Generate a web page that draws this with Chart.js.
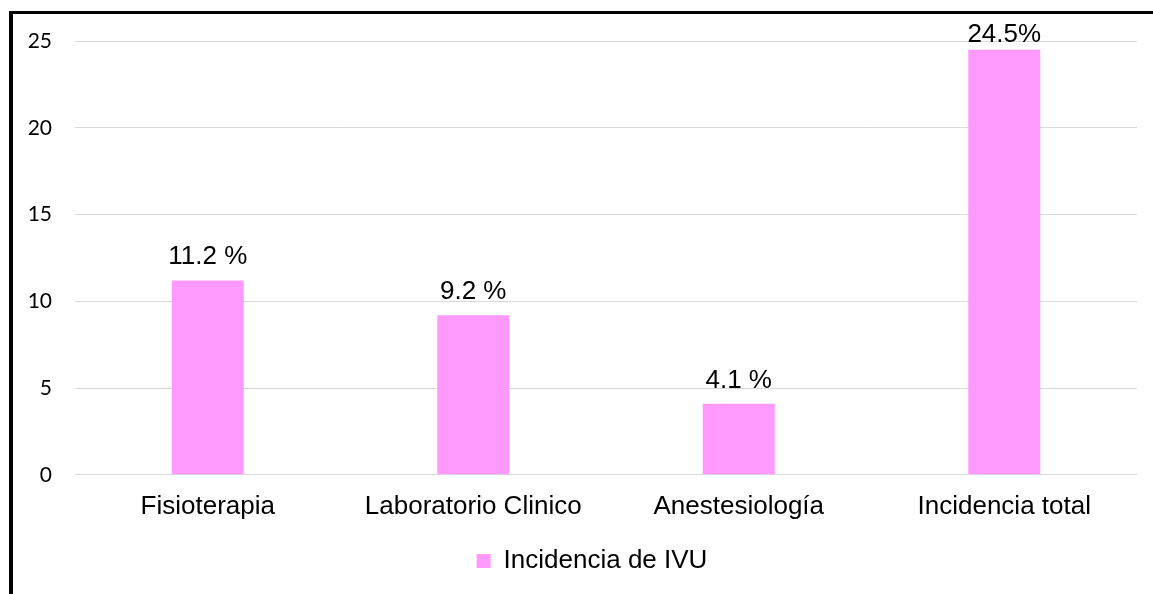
<!DOCTYPE html>
<html>
<head>
<meta charset="utf-8">
<script src="https://cdn.jsdelivr.net/npm/chart.js@4/dist/chart.umd.min.js"></script>
<style>
  html, body { margin: 0; padding: 0; background: #fff; }
  body { width: 1153px; height: 594px; position: relative; overflow: hidden; }
  #frame {
    position: absolute; left: 9px; top: 11px; right: 0; bottom: 0;
    border-left: 4px solid #000; border-top: 3px solid #000;
  }
  #wrap { position: absolute; left: 0; top: 0; width: 1153px; height: 594px; }
</style>
</head>
<body>
<div id="frame"></div>
<div id="wrap"><canvas id="ivuChart"></canvas></div>
<script>
const categories = ['Fisioterapia', 'Laboratorio Clinico', 'Anestesiología', 'Incidencia total'];
const incidencia = [11.2, 9.2, 4.1, 24.5];
const valueLabels = ['11.2 %', '9.2 %', '4.1 %', '24.5%'];
const yTicks = [0, 5, 10, 15, 20, 25];

// value labels above the bars (no datalabels plugin offline)
const barLabels = {
  id: 'barLabels',
  afterDatasetsDraw(chart) {
    const ctx = chart.ctx;
    const meta = chart.getDatasetMeta(0);
    ctx.save();
    ctx.font = '26px "Liberation Sans", Arial, sans-serif';
    ctx.fillStyle = '#000';
    ctx.textAlign = 'center';
    ctx.textBaseline = 'alphabetic';
    meta.data.forEach((bar, i) => {
      const y = Math.max(bar.y - 16, chart.chartArea.top + 1);
      ctx.fillText(valueLabels[i], bar.x, y);
    });
    ctx.restore();
  }
};

// legend in the original is centred a bit right of the canvas centre
const legendShift = {
  id: 'legendShift',
  afterLayout(chart) {
    if (chart.legend) chart.legend.left += 47;
  }
};

const ctx = document.getElementById('ivuChart');
new Chart(ctx, {
  type: 'bar',
  data: {
    labels: categories,
    datasets: [{
      label: 'Incidencia de IVU',
      data: incidencia,
      backgroundColor: '#FF99FF',
      borderWidth: 0,
      barPercentage: 0.271,
      categoryPercentage: 1
    }]
  },
  options: {
    responsive: true,
    maintainAspectRatio: false,
    animation: false,
    layout: {
      padding: { left: 0, right: 16, top: 41, bottom: 10 }
    },
    plugins: {
      legend: {
        position: 'bottom',
        labels: {
          boxWidth: 14,
          boxHeight: 14,
          color: '#000',
          padding: 10,
          font: { family: '"Liberation Sans", Arial, sans-serif', size: 26 }
        }
      },
      tooltip: { enabled: false }
    },
    scales: {
      x: {
        grid: { display: false, drawTicks: false },
        border: { display: false },
        ticks: {
          color: '#000',
          padding: 16,
          maxRotation: 0,
          font: { family: '"Liberation Sans", Arial, sans-serif', size: 26 }
        }
      },
      y: {
        min: 0,
        max: 25,
        afterFit(scale) { scale.width = 75; },
        afterBuildTicks(scale) { scale.ticks = yTicks.map(v => ({ value: v })); },
        grid: { color: '#d9d9d9', lineWidth: 1, drawTicks: false },
        border: { display: false },
        ticks: {
          color: '#000',
          padding: 23,
          font: { family: 'Lato, sans-serif', size: 21 }
        }
      }
    }
  },
  plugins: [barLabels, legendShift]
});
</script>
</body>
</html>
